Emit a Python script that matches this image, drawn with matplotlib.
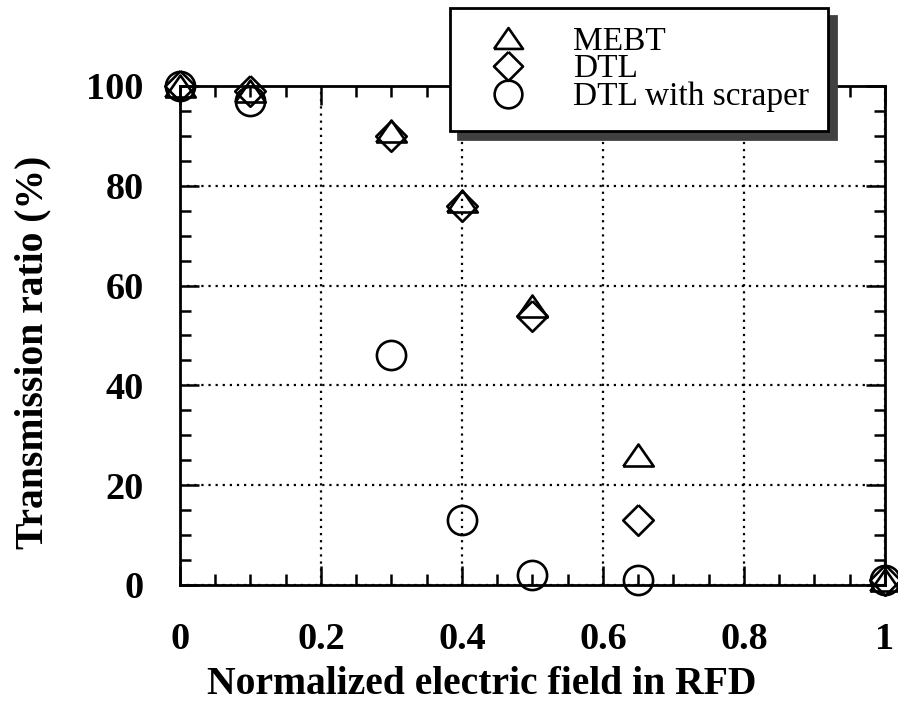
import numpy as np
import matplotlib
matplotlib.use("Agg")
import matplotlib.pyplot as plt
from matplotlib.ticker import MultipleLocator

plt.rcParams['font.family'] = ['Liberation Serif', 'DejaVu Serif']

# normalized RFD field and transmission ratio (%)
field = [0.0, 0.1, 0.3, 0.4, 0.5, 0.65, 1.0]
mebt = [100, 99, 91, 77, 56, 26, 1]
dtl = [100, 99, 90, 76, 54, 13, 1]
field_scraper = [0.0, 0.1, 0.3, 0.4, 0.5, 0.65, 1.0]
dtl_scraper = [100, 97, 46, 13, 2, 1, 1]

tri = [(-1.0, -0.72), (1.0, -0.72), (0.0, 0.72), (-1.0, -0.72)]
dia = [(0.0, 1.0), (1.0, 0.0), (0.0, -1.0), (-1.0, 0.0), (0.0, 1.0)]

fig = plt.figure(figsize=(8.98, 7.03), dpi=100)
ax = fig.add_axes([0.2004, 0.1679, 0.7851, 0.7098])

kw = dict(linestyle='none', markerfacecolor='none', markeredgecolor='black',
          markeredgewidth=1.9, clip_on=False, zorder=5)
ax.plot(field, mebt, marker=tri, markersize=22, label='MEBT', **kw)
ax.plot(field, dtl, marker=dia, markersize=22, label='DTL', **kw)
ax.plot(field_scraper, dtl_scraper, marker='o', markersize=21,
        label='DTL with scraper', **kw)

ax.set_xlim(0, 1)
ax.set_ylim(0, 100)
ax.xaxis.set_minor_locator(MultipleLocator(0.05))
ax.yaxis.set_major_locator(MultipleLocator(20))
ax.yaxis.set_minor_locator(MultipleLocator(5))
ax.set_xticks([0, 0.2, 0.4, 0.6, 0.8, 1.0])
ax.set_xticklabels(['0', '0.2', '0.4', '0.6', '0.8', '1'])

ax.tick_params(which='both', direction='in', top=True, right=True, width=1.8)
ax.tick_params(which='major', length=14)
ax.tick_params(which='minor', length=8)
ax.tick_params(axis='x', which='major', pad=27)
ax.tick_params(axis='y', which='major', pad=26)
for lab in ax.get_xticklabels() + ax.get_yticklabels():
    lab.set_fontsize(27.5)
    lab.set_fontweight('bold')

for s in ax.spines.values():
    s.set_linewidth(2)

ax.grid(True, which='major', linestyle=(0, (1, 2.2)), color='black', linewidth=1.6)

ax.set_xlabel('Normalized electric field in RFD', fontsize=28.5, fontweight='bold')
ax.set_ylabel('Transmission ratio (%)', fontsize=28.5, fontweight='bold')
ax.xaxis.set_label_coords(0.428, -0.162)
ax.yaxis.set_label_coords(-0.183, 0.467)

leg = fig.legend(loc='upper left', bbox_to_anchor=(0.501, 0.989), fontsize=24,
                 frameon=True, fancybox=False, edgecolor='black',
                 shadow={'ox': 6, 'oy': -6, 'color': '0.25', 'alpha': 1},
                 labelspacing=-0.08, handletextpad=0.75, borderpad=0.55,
                 borderaxespad=0, handlelength=2.4, markerscale=0.95)
leg.get_frame().set_linewidth(2)
leg.set_zorder(10)

fig.savefig('out.png', dpi=100)
